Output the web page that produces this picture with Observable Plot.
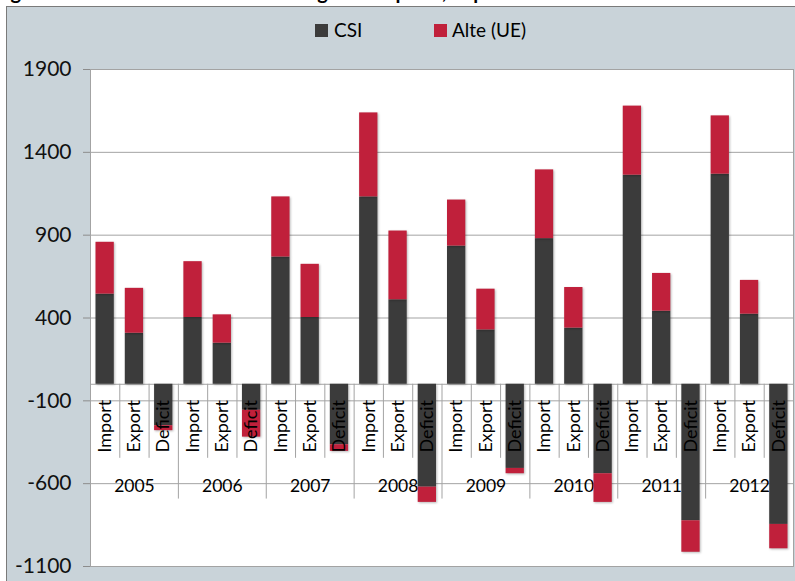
<!DOCTYPE html>
<html>
<head>
<meta charset="utf-8">
<script src="https://cdn.jsdelivr.net/npm/d3@7"></script>
<script src="https://cdn.jsdelivr.net/npm/@observablehq/plot@0.6"></script>
<style>
  html, body { margin: 0; padding: 0; background: #ffffff; }
  #wrap { position: relative; width: 795px; height: 581px; overflow: hidden; font-family: Lato, "Open Sans", sans-serif; }
  #title { position: absolute; left: -6px; top: -19px; font: bold 20px Lato, sans-serif; line-height: 20px; white-space: nowrap; color: #000; }
  #panel { position: absolute; left: 6px; top: 6px; width: 800px; height: 590px; background: #c9d3d9; border-left: 1px solid #7a7a7a; border-top: 1px solid #7a7a7a; }
  #chart { position: absolute; left: 0; top: 0; }
  .sw { position: absolute; width: 13px; height: 13px; }
  .lt { position: absolute; font: 19px Lato, sans-serif; line-height: 19px; color: #000; white-space: nowrap; }
  g[aria-label="rect"] rect { filter: drop-shadow(1.5px 1.5px 1px rgba(0,0,0,0.28)); }
</style>
</head>
<body>
<div id="wrap">
  <div id="title">Figure 3. Trade with CSI and other regions: exports, imports and trade deficit</div>
  <div id="panel"></div>
  <div id="chart"></div>
  <div class="sw" style="left:315px;top:24px;background:#3b3b3b"></div>
  <div class="lt" style="left:334px;top:20px">CSI</div>
  <div class="sw" style="left:434px;top:24px;background:#c0203b"></div>
  <div class="lt" style="left:452px;top:20px">Alte (UE)</div>
</div>
<script>
const years = [2005, 2006, 2007, 2008, 2009, 2010, 2011, 2012];
const flows = ["Import", "Export", "Deficit"];
const seriesNames = ["CSI", "Alte (UE)"];
const seriesColors = ["#3b3b3b", "#c0203b"];

const csiImport   = [544, 403, 768, 1131, 834, 879, 1262, 1268];
const alteImport  = [313, 337, 363, 507, 278, 415, 417, 352];
const csiExport   = [308, 248, 403, 510, 328, 339, 441, 423];
const alteExport  = [271, 171, 321, 415, 246, 245, 228, 204];
const csiDeficit  = [-250, -157, -365, -621, -508, -540, -824, -846];
const alteDeficit = [-30, -162, -40, -92, -32, -173, -190, -147];

const yTicks = [-1100, -600, -100, 400, 900, 1400, 1900];

const csiBy = {Import: csiImport, Export: csiExport, Deficit: csiDeficit};
const alteBy = {Import: alteImport, Export: alteExport, Deficit: alteDeficit};

const rows = [];
const cats = [];
years.forEach((yr, yi) => {
  flows.forEach((f, fi) => {
    const idx = yi * flows.length + fi;
    cats.push({idx: idx + 0.5, flow: f, year: yr});
    rows.push({idx, year: yr, flow: f, series: "CSI", value: csiBy[f][yi]});
    rows.push({idx, year: yr, flow: f, series: "Alte (UE)", value: alteBy[f][yi]});
  });
});
const nCats = years.length * flows.length;
const bounds = d3.range(1, nCats);
const shortB = bounds.filter(b => b % flows.length !== 0);
const longB = bounds.filter(b => b % flows.length === 0);
const yearCenters = years.map((yr, yi) => ({x: yi * flows.length + flows.length / 2, label: String(yr)}));

const sepShort = -447;
const sepLong = -693;
const gridColor = "#a3a3a3";

const chart = Plot.plot({
  width: 795,
  height: 581,
  marginLeft: 90,
  marginRight: 2,
  marginTop: 69,
  marginBottom: 15,
  style: {fontFamily: "Lato, sans-serif", fontSize: "18px", color: "#000", background: "transparent", overflow: "visible"},
  x: {type: "linear", domain: [0, nCats], axis: null},
  y: {domain: [-1100, 1900], axis: null},
  color: {domain: seriesNames, range: seriesColors},
  marks: [
    Plot.frame({fill: "#ffffff", stroke: null}),
    Plot.gridY(yTicks, {stroke: gridColor, strokeOpacity: 1}),
    Plot.ruleY([0], {stroke: gridColor}),
    Plot.ruleX(shortB, {x: d => d, y1: 0, y2: sepShort, stroke: gridColor}),
    Plot.ruleX(longB, {x: d => d, y1: 0, y2: sepLong, stroke: gridColor}),
    Plot.text(yearCenters, {x: "x", y: 0, dy: 102, text: "label", fontSize: 17.5, fill: "#000"}),
    Plot.rectY(rows, {x: "idx", interval: 1, y: "value", fill: "series", insetLeft: 5.5, insetRight: 5.5}),
    Plot.text(cats, {x: "idx", y: 0, dy: 42, text: "flow", rotate: -90, fontSize: 18, fill: "#000"}),
    Plot.axisY(yTicks, {tickSize: 7, tickPadding: 12, fontSize: 21, stroke: "#8c8c8c", fill: "#111", label: null, tickFormat: d => String(d)}),
    Plot.frame({stroke: gridColor})
  ]
});
document.getElementById("chart").appendChild(chart);
</script>
</body>
</html>
